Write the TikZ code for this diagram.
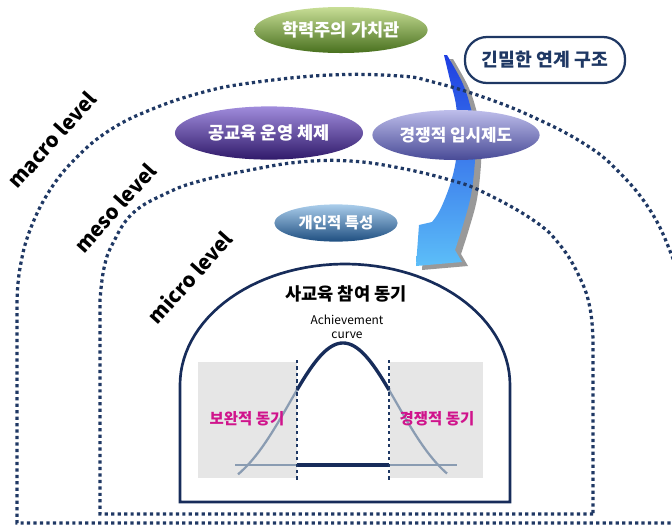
\documentclass[tikz,border=0pt]{standalone}
\usepackage{fontspec}
\setmainfont{Noto Sans CJK KR}
\usetikzlibrary{shapes.geometric}
\definecolor{dotnavy}{HTML}{1F3864}
\definecolor{archnavy}{HTML}{172C5A}
\definecolor{bellgray}{HTML}{8A9CB2}
\definecolor{boxgray}{HTML}{E6E6E6}
\definecolor{magtext}{HTML}{D0148C}
\tikzset{
  dotline/.style={draw=dotnavy, line width=2.3pt, dash pattern=on 2.3pt off 2.3pt},
  oval/.style={ellipse, inner sep=0pt, text=white, font=\bfseries\fontsize{12.5}{14}\selectfont},
  levellabel/.style={font=\bfseries\fontsize{14.5}{16}\selectfont, rotate=48, inner sep=0pt},
  maglabel/.style={text=magtext, font=\bfseries\fontsize{11}{13}\selectfont, inner sep=0pt},
}
\begin{document}
\begin{tikzpicture}[x=0.025cm,y=-0.025cm]
\useasboundingbox (0,0) rectangle (672,528);
\clip (0,0) rectangle (672,528);
% grey boxes
\fill[boxgray] (198,362) rectangle (297,478);
\fill[boxgray] (390,362) rectangle (483,478);
% arrow shadow
\fill[gray!80, shift={(6,4)}] plot[smooth, tension=0.6] coordinates {(444,55) (450,80) (456,105) (458,135) (456,160) (450,185) (440,210) (432,222)}
  -- (419,225) -- (416,266) -- (462,262) -- plot[smooth, tension=0.6] coordinates {(455,250) (463,225) (471,195) (475,160) (475,130) (470,105) (462,82) (447,55)} -- cycle;
% arrow
\shade[top color={rgb,255:red,30;green,62;blue,225}, bottom color={rgb,255:red,92;green,190;blue,248}] plot[smooth, tension=0.6] coordinates {(444,55) (450,80) (456,105) (458,135) (456,160) (450,185) (440,210) (432,222)}
  -- (419,225) -- (416,266) -- (462,262) -- plot[smooth, tension=0.6] coordinates {(455,250) (463,225) (471,195) (475,160) (475,130) (470,105) (462,82) (447,55)} -- cycle;
% dotted levels
\draw[dotline] (690,523) -- (17,523) -- plot[smooth, tension=0.7] coordinates {(17,300) (20,268) (30,230) (50,190) (77,157) (110,130) (150,110) (200,93) (250,83) (330,75) (400,76) (433,82) (483,97) (533,117) (583,143) (617,170) (650,210) (672,256) (690,310)};
\draw[dotline] (593,514) -- (100,514) -- plot[smooth, tension=0.7] coordinates {(100,300) (104,268) (113,243) (133,213) (167,193) (200,181) (250,170) (300,162) (350,161) (400,168) (450,180) (483,192) (533,220) (560,245) (580,278) (590,308) (593,340)} -- cycle;
% micro arch
\draw[archnavy, line width=1.9pt] (180,502) -- (180,385) -- plot[domain=180:0, samples=60] ({345+165*cos(\x)},{385-121*sin(\x)}) -- (510,502) -- cycle;
% bell curve
\draw[bellgray, line width=1.6pt] (235,465) -- (457,465);
\draw[bellgray, line width=1.6pt] plot[domain=238:297, samples=30] (\x,{343+155*(1-exp(-((\x-343)^2)/5862))});
\draw[bellgray, line width=1.6pt] plot[domain=389:447, samples=30] (\x,{343+155*(1-exp(-((\x-343)^2)/5862))});
\draw[archnavy, line width=2.4pt] plot[domain=297:389, samples=50] (\x,{343+155*(1-exp(-((\x-343)^2)/5862))});
\draw[archnavy, line width=2.4pt] (297,465) -- (389,465);
\draw[dotline, line width=1.9pt] (297,360) -- (297,480);
\draw[dotline, line width=1.9pt] (389,360) -- (389,480);
% ovals
\node[oval, minimum width=4.33cm, minimum height=1.15cm, top color={rgb,255:red,200;green,222;blue,150}, middle color={rgb,255:red,120;green,160;blue,60}, bottom color={rgb,255:red,72;green,112;blue,30}] (values) at (341,30) {학력주의 가치관};
\node[draw=dotnavy, line width=1.6pt, rounded corners=0.55cm, minimum width=4.0cm, minimum height=1.15cm, fill=white, text=dotnavy, font=\bfseries\fontsize{13}{15}\selectfont] (link) at (545,60) {긴밀한 연계 구조};
\node[oval, minimum width=4.7cm, minimum height=1.33cm, top color={rgb,255:red,160;green,140;blue,220}, middle color={rgb,255:red,78;green,48;blue,150}, bottom color={rgb,255:red,48;green,26;blue,106}] (public) at (269,133) {공교육 운영 체제};
\node[oval, minimum width=4.18cm, minimum height=1.25cm, top color={rgb,255:red,190;green,190;blue,235}, middle color={rgb,255:red,110;green,112;blue,195}, bottom color={rgb,255:red,72;green,74;blue,150}, font=\bfseries\fontsize{12}{14}\selectfont] (exam) at (456,135) {경쟁적 입시제도};
\node[oval, minimum width=3.08cm, minimum height=0.93cm, top color={rgb,255:red,170;green,205;blue,235}, middle color={rgb,255:red,58;green,125;blue,181}, bottom color={rgb,255:red,30;green,78;blue,128}, font=\bfseries\fontsize{11}{13}\selectfont] (indiv) at (336,223) {개인적 특성};
% texts
\node[font=\bfseries\fontsize{12.5}{14}\selectfont, inner sep=0pt] (motive) at (346,294) {사교육 참여 동기};
\node[font=\fontsize{8.5}{10}\selectfont, align=center, inner sep=0pt] (curve) at (347,327) {Achievement\\curve};
\node[maglabel] (comp1) at (247,419) {보완적 동기};
\node[maglabel] (comp2) at (437,419) {경쟁적 동기};
\node[levellabel] (macro) at (52,140) {macro level};
\node[levellabel] (meso) at (115,208) {meso level};
\node[levellabel] (micro) at (190,277) {micro level};
\end{tikzpicture}
\end{document}
